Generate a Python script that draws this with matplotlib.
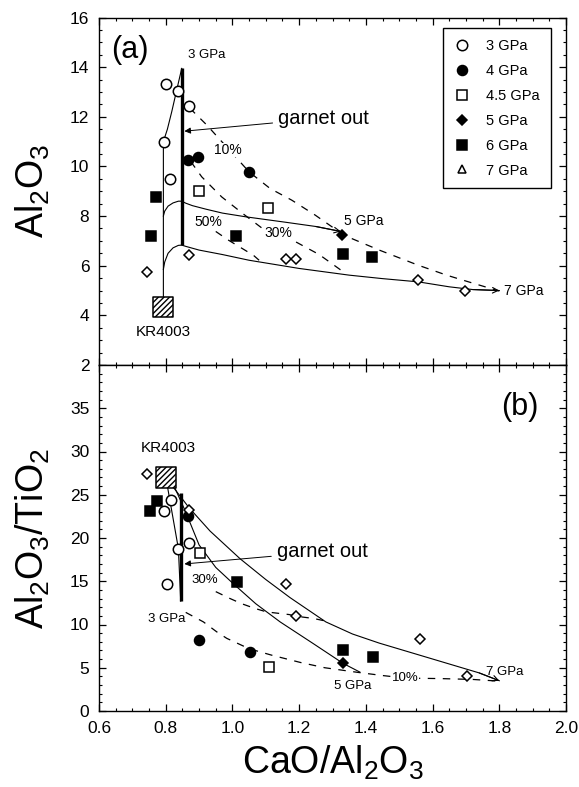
import matplotlib.pyplot as plt
from matplotlib.lines import Line2D
from matplotlib.ticker import MultipleLocator

plt.rcParams['font.family'] = ['Liberation Sans', 'DejaVu Sans']
plt.rcParams['mathtext.fontset'] = 'custom'
plt.rcParams['mathtext.rm'] = 'Liberation Sans'
plt.rcParams['mathtext.default'] = 'regular'
plt.rcParams['hatch.linewidth'] = 1.0

# ---------------- panel (a): Al2O3 vs CaO/Al2O3 ----------------
a_3gpa_x = [0.800, 0.836, 0.870, 0.795, 0.813]
a_3gpa_y = [13.31, 13.05, 12.43, 11.0, 9.49]
a_4gpa_x = [0.868, 0.898, 1.05]
a_4gpa_y = [10.25, 10.39, 9.78]
a_45gpa_x = [0.90, 1.108]
a_45gpa_y = [9.02, 8.31]
a_5gpa_x = [1.329]
a_5gpa_y = [7.22]
a_6gpa_x = [0.771, 0.755, 1.011, 1.33, 1.417]
a_6gpa_y = [8.75, 7.19, 7.2, 6.46, 6.35]
a_7gpa_x = [0.743, 0.870, 1.16, 1.19, 1.557, 1.697]
a_7gpa_y = [5.73, 6.45, 6.29, 6.29, 5.42, 4.98]
a_kr_x, a_kr_y = 0.793, 4.34

# melting paths
a_path3_x = [0.793, 0.793, 0.805, 0.818, 0.833, 0.848]
a_path3_y = [4.74, 11.0, 11.5, 12.2, 13.08, 13.95]
a_gout_x = [0.848, 0.848]
a_gout_y = [6.83, 13.95]
a_path5_x = [0.793, 0.797, 0.807, 0.822, 0.838, 0.848, 0.86, 0.88, 0.92, 0.97, 1.04, 1.16, 1.25, 1.325]
a_path5_y = [8.0, 8.2, 8.4, 8.53, 8.6, 8.6, 8.52, 8.42, 8.28, 8.12, 7.97, 7.75, 7.58, 7.38]
a_path7_x = [0.793, 0.797, 0.807, 0.822, 0.838, 0.848, 0.86, 0.9, 0.97, 1.05, 1.2, 1.35, 1.45, 1.557, 1.65, 1.72, 1.80]
a_path7_y = [5.85, 6.15, 6.5, 6.72, 6.82, 6.83, 6.78, 6.63, 6.45, 6.22, 5.89, 5.62, 5.48, 5.35, 5.15, 5.04, 5.0]
# melt fraction isopleths
a_f10_x = [0.872, 0.923, 1.05, 1.113, 1.178, 1.248, 1.313, 1.33, 1.442, 1.557, 1.642, 1.72, 1.80]
a_f10_y = [12.35, 11.67, 9.78, 9.11, 8.64, 8.04, 7.43, 7.25, 6.62, 6.02, 5.62, 5.3, 4.98]
a_f30_x = [0.875, 0.908, 0.968, 1.037, 1.09, 1.19, 1.26, 1.34]
a_f30_y = [10.2, 9.58, 8.77, 8.04, 7.5, 6.96, 6.45, 5.68]
a_f50_x = [0.95, 0.988, 1.063, 1.08]
a_f50_y = [7.38, 7.03, 6.42, 6.22]

# ---------------- panel (b): Al2O3/TiO2 vs CaO/Al2O3 ----------------
b_3gpa_x = [0.815, 0.796, 0.838, 0.870, 0.803]
b_3gpa_y = [24.4, 23.1, 18.77, 19.4, 14.65]
b_4gpa_x = [0.868, 0.90, 1.053]
b_4gpa_y = [22.6, 8.19, 6.77]
b_45gpa_x = [0.903, 1.11]
b_45gpa_y = [18.3, 5.1]
b_5gpa_x = [1.33]
b_5gpa_y = [5.6]
b_6gpa_x = [0.773, 0.753, 1.013, 1.332, 1.42]
b_6gpa_y = [24.3, 23.1, 14.9, 7.1, 6.27]
b_7gpa_x = [0.743, 0.871, 1.16, 1.19, 1.562, 1.702]
b_7gpa_y = [27.4, 23.2, 14.65, 10.96, 8.38, 4.04]
b_kr_x, b_kr_y = 0.80, 27.0

b_path3_x = [0.805, 0.838, 0.845]
b_path3_y = [26.0, 18.77, 12.7]
b_gout_x = [0.845, 0.845]
b_gout_y = [25.2, 12.7]
b_path5_x = [0.825, 0.86, 0.90, 0.95, 1.003, 1.07, 1.143, 1.242, 1.332, 1.382]
b_path5_y = [26.0, 23.0, 19.2, 16.6, 14.7, 12.4, 10.3, 7.8, 5.5, 4.5]
b_path7_x = [0.82, 0.87, 0.933, 1.023, 1.10, 1.173, 1.28, 1.36, 1.44, 1.54, 1.64, 1.74, 1.80]
b_path7_y = [26.0, 23.5, 20.8, 17.6, 15.2, 13.1, 10.3, 8.9, 7.85, 6.7, 5.55, 4.4, 3.5]
b_f10_x = [0.86, 0.913, 0.953, 0.983, 1.05, 1.118, 1.205, 1.277, 1.375, 1.45, 1.52, 1.62, 1.72, 1.80]
b_f10_y = [11.4, 10.3, 9.15, 8.4, 7.2, 6.45, 5.6, 5.0, 4.47, 4.1, 3.8, 3.75, 3.65, 3.45]
b_f30_x = [0.95, 0.993, 1.028, 1.068, 1.103, 1.17, 1.19, 1.243, 1.285]
b_f30_y = [13.8, 13.0, 12.4, 11.85, 11.45, 11.15, 10.96, 10.7, 10.35]

labels = ['3 GPa', '4 GPa', '4.5 GPa', '5 GPa', '6 GPa', '7 GPa']
markers = ['o', 'o', 's', 'D', 's', 'D']
faces = ['white', 'black', 'white', 'black', 'black', 'white']
sizes = [7.5, 7.2, 7.2, 5.2, 7.0, 5.0]

fig = plt.figure(figsize=(5.79, 7.87), dpi=100)
W, H = 579.0, 787.0
ax1 = fig.add_axes([99 / W, 1 - 365 / H, 467 / W, 347.5 / H])
ax2 = fig.add_axes([99 / W, 1 - 711 / H, 467 / W, 346 / H])

dash = (0, (6, 6))
thin = 0.8


def style_axes(ax):
    ax.set_xlim(0.6, 2.0)
    ax.xaxis.set_major_locator(MultipleLocator(0.2))
    ax.xaxis.set_minor_locator(MultipleLocator(0.05))
    ax.tick_params(which='both', direction='in', top=True, right=True, labelsize=12.5, pad=7)
    ax.tick_params(which='major', length=5, width=0.9)
    ax.tick_params(which='minor', length=2.5, width=0.8)
    for s in ax.spines.values():
        s.set_linewidth(1.0)


def draw_points(ax, xs, ys):
    for x, y, m, fc, ms in zip(xs, ys, markers, faces, sizes):
        ax.plot(x, y, ls='none', marker=m, ms=ms, mfc=fc, mec='black', mew=1.1, zorder=5)


def end_arrow(ax, x, y):
    ax.annotate('', xy=(x[-1], y[-1]), xytext=(x[-2], y[-2]),
                arrowprops=dict(arrowstyle='->', lw=thin, color='black', shrinkA=0, shrinkB=0,
                                mutation_scale=10))


# ---- panel (a)
ax = ax1
ax.plot(a_path3_x, a_path3_y, color='black', lw=thin)
ax.plot(a_gout_x, a_gout_y, color='black', lw=2.4, solid_capstyle='butt')
ax.plot(a_path5_x, a_path5_y, color='black', lw=thin)
ax.plot(a_path7_x, a_path7_y, color='black', lw=thin)
end_arrow(ax, a_path5_x, a_path5_y)
end_arrow(ax, a_path7_x, a_path7_y)
ax.plot(a_f10_x, a_f10_y, color='black', lw=0.9, ls=dash)
ax.plot(a_f30_x, a_f30_y, color='black', lw=0.9, ls=dash)
ax.plot(a_f50_x, a_f50_y, color='black', lw=0.9, ls=dash)
draw_points(ax, [a_3gpa_x, a_4gpa_x, a_45gpa_x, a_5gpa_x, a_6gpa_x, a_7gpa_x],
            [a_3gpa_y, a_4gpa_y, a_45gpa_y, a_5gpa_y, a_6gpa_y, a_7gpa_y])
ax.scatter([a_kr_x], [a_kr_y], marker='s', s=210, facecolor='white', edgecolor='black',
           hatch='//////', linewidth=1.1, zorder=6)
ax.text(a_kr_x, 3.33, 'KR4003', ha='center', va='center', fontsize=11)
ax.text(0.693, 14.69, '(a)', ha='center', va='center', fontsize=22)
ax.text(0.868, 14.49, '3 GPa', ha='left', va='center', fontsize=9.5)
ax.text(1.335, 7.81, '5 GPa', ha='left', va='center', fontsize=10)
ax.text(1.815, 5.0, '7 GPa', ha='left', va='center', fontsize=10)
pct_box = dict(facecolor='white', edgecolor='none', pad=0.3)
ax.text(0.985, 10.66, '10%', ha='center', va='center', fontsize=10, bbox=pct_box)
ax.text(1.137, 7.30, '30%', ha='center', va='center', fontsize=10, bbox=pct_box)
ax.text(0.928, 7.77, '50%', ha='center', va='center', fontsize=10, bbox=pct_box)
ax.annotate('garnet out', xy=(0.856, 11.42), xytext=(1.137, 11.94), fontsize=14.5,
            ha='left', va='center',
            arrowprops=dict(arrowstyle='-|>', lw=0.7, color='black', mutation_scale=9,
                            shrinkA=2, shrinkB=0))
style_axes(ax)
ax.set_ylim(2, 16)
ax.yaxis.set_major_locator(MultipleLocator(2))
ax.yaxis.set_minor_locator(MultipleLocator(0.5))
ax.tick_params(labelbottom=False)
ax.set_ylabel(r'Al$_2$O$_3$', fontsize=27)
ax.yaxis.set_label_coords(-0.10, 0.5)

handles = []
for lab, m, fc, ms in zip(labels, markers, faces, sizes):
    if lab == '7 GPa':
        m, ms = '^', 5.5
    handles.append(Line2D([], [], ls='none', marker=m, ms=ms, mfc=fc, mec='black', mew=1.1))
leg = ax.legend(handles, labels, loc='upper right', bbox_to_anchor=(0.968, 0.970),
                borderaxespad=0, fontsize=10.5, labelspacing=0.75, handlelength=1.0,
                handletextpad=1.2, borderpad=0.75, fancybox=False, framealpha=1)
leg.get_frame().set_edgecolor('black')
leg.get_frame().set_linewidth(1.0)

# ---- panel (b)
ax = ax2
ax.plot(b_path3_x, b_path3_y, color='black', lw=thin)
ax.plot(b_gout_x, b_gout_y, color='black', lw=2.4, solid_capstyle='butt')
ax.plot(b_path5_x, b_path5_y, color='black', lw=thin)
ax.plot(b_path7_x, b_path7_y, color='black', lw=thin)
end_arrow(ax, b_path7_x, b_path7_y)
ax.plot(b_f10_x, b_f10_y, color='black', lw=0.9, ls=dash)
ax.plot(b_f30_x, b_f30_y, color='black', lw=0.9, ls=dash)
draw_points(ax, [b_3gpa_x, b_4gpa_x, b_45gpa_x, b_5gpa_x, b_6gpa_x, b_7gpa_x],
            [b_3gpa_y, b_4gpa_y, b_45gpa_y, b_5gpa_y, b_6gpa_y, b_7gpa_y])
ax.scatter([b_kr_x], [b_kr_y], marker='s', s=210, facecolor='white', edgecolor='black',
           hatch='//////', linewidth=1.1, zorder=6)
ax.text(0.809, 30.4, 'KR4003', ha='center', va='center', fontsize=11)
ax.text(1.917, 35.1, '(b)', ha='right', va='center', fontsize=22)
ax.text(0.748, 10.69, '3 GPa', ha='left', va='center', fontsize=9.5)
ax.text(1.304, 2.88, '5 GPa', ha='left', va='center', fontsize=9.5)
ax.text(1.76, 4.53, '7 GPa', ha='left', va='center', fontsize=9.5)
ax.text(0.918, 15.2, '30%', ha='center', va='center', fontsize=9.5, bbox=pct_box)
ax.text(1.517, 3.77, '10%', ha='center', va='center', fontsize=9.5, bbox=pct_box)
ax.annotate('garnet out', xy=(0.856, 17.0), xytext=(1.133, 18.4), fontsize=14.5,
            ha='left', va='center',
            arrowprops=dict(arrowstyle='-|>', lw=0.7, color='black', mutation_scale=9,
                            shrinkA=2, shrinkB=0))
style_axes(ax)
ax.set_ylim(0, 40)
ax.set_yticks(range(0, 40, 5))
ax.yaxis.set_minor_locator(MultipleLocator(1))
ax.xaxis.set_major_formatter(plt.FuncFormatter(lambda v, p: '%.1f' % v))
ax.set_ylabel(r'Al$_2$O$_3$/TiO$_2$', fontsize=27)
ax.yaxis.set_label_coords(-0.10, 0.5)
ax.set_xlabel(r'CaO/Al$_2$O$_3$', fontsize=27, labelpad=6)

fig.savefig('out.png', dpi=100)
